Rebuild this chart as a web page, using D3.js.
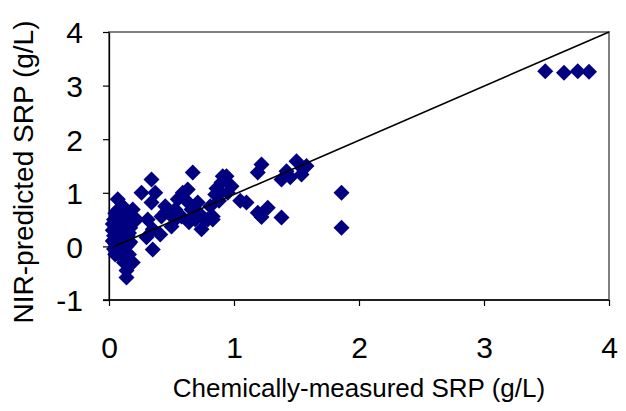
<!DOCTYPE html>
<html>
<head>
<meta charset="utf-8">
<script src="https://cdn.jsdelivr.net/npm/d3@7"></script>
<style>
  body { margin: 0; background: #fff; }
  svg { font-family: "Liberation Sans", Arial, sans-serif; }
</style>
</head>
<body>
<div id="chart"></div>
<script>
// chemically-measured SRP (g/L)
const measured = [
  0.04, 0.05, 0.04, 0.05, 0.04, 0.06, 0.07, 0.06, 0.08, 0.07, 0.05, 0.08, 0.09, 0.10, 0.09, 0.10,
  0.12, 0.11, 0.12, 0.11, 0.13, 0.12, 0.14, 0.14, 0.15, 0.13, 0.15, 0.16, 0.16, 0.14, 0.14, 0.07,
  0.06, 0.10, 0.08, 0.03, 0.03, 0.13, 0.17, 0.11, 0.19, 0.19, 0.35,
  0.03, 0.04, 0.05, 0.06, 0.08, 0.09, 0.11, 0.12, 0.13, 0.15, 0.16, 0.17, 0.10, 0.07,
  0.26, 0.34, 0.37, 0.34, 0.31, 0.35, 0.30, 0.42, 0.45, 0.41, 0.50, 0.46, 0.55, 0.53, 0.59, 0.63,
  0.67, 0.58, 0.66, 0.69, 0.74, 0.77, 0.71, 0.81, 0.85, 0.90, 0.94, 0.89, 0.95, 0.98, 0.79, 0.83,
  0.53, 0.22, 0.91, 1.10, 1.19, 1.27, 0.83, 0.88, 1.05, 1.22,
  0.62, 0.72, 0.86, 0.48, 0.64,
  1.22, 1.19, 1.50, 1.58, 1.54, 1.38, 1.45, 1.42, 1.55, 1.38, 1.86, 1.86,
  3.49, 3.64, 3.75, 3.84
];
// NIR-predicted SRP (g/L)
const predicted = [
  0.50, 0.35, 0.20, 0.05, -0.05, 0.15, 0.30, 0.45, 0.55, 0.00, -0.15, -0.10, 0.10, 0.25, 0.40, 0.60,
  0.50, 0.35, 0.15, -0.05, -0.20, -0.30, 0.00, 0.30, 0.45, 0.65, 0.20, 0.05, -0.15, -0.45, -0.58, 0.88,
  0.65, -0.20, 0.70, 0.30, 0.10, 0.40, 0.35, 0.75, 0.69, -0.30, -0.06,
  0.42, 0.12, 0.62, -0.02, 0.22, 0.48, 0.05, 0.25, -0.10, 0.55, 0.25, 0.08, 0.50, 0.38,
  1.00, 1.25, 1.00, 0.82, 0.50, 0.32, 0.17, 0.56, 0.75, 0.22, 0.37, 0.65, 0.88, 0.69, 1.00, 1.06,
  1.38, 0.56, 0.69, 0.50, 0.32, 0.50, 0.82, 0.75, 0.97, 1.19, 1.31, 1.00, 1.00, 1.12, 0.50, 0.56,
  0.50, 0.50, 1.31, 0.82, 0.63, 0.72, 0.50, 0.85, 0.85, 0.55,
  0.85, 0.62, 1.08, 0.62, 0.45,
  1.53, 1.38, 1.59, 1.50, 1.34, 1.25, 1.29, 1.40, 1.45, 0.54, 1.00, 0.35,
  3.27, 3.24, 3.27, 3.26
];
// 1:1 reference line
const lineX = [0.04, 4];
const lineY = [0.0, 4];
const xTicks = [0, 1, 2, 3, 4];
const yTicks = [-1, 0, 1, 2, 3, 4];

const W = 626, H = 411;
const margin = {top: 32, right: 17, bottom: 111, left: 109};

const svg = d3.select("#chart").append("svg")
  .attr("width", W)
  .attr("height", H);

const x = d3.scaleLinear().domain([0, 4]).range([margin.left, W - margin.right]);
const y = d3.scaleLinear().domain([-1, 4]).range([H - margin.bottom, margin.top]);

// plot area border (grey top/right)
svg.append("rect")
  .attr("x", x(0)).attr("y", y(4))
  .attr("width", x(4) - x(0)).attr("height", y(-1) - y(4))
  .attr("fill", "none")
  .attr("stroke", "#808080")
  .attr("stroke-width", 2);

// axes
const xAxis = svg.append("g")
  .attr("transform", `translate(0,${y(-1)})`)
  .call(d3.axisBottom(x).tickValues(xTicks).tickFormat(d => String(d)).tickSize(6).tickSizeOuter(0));
const yAxis = svg.append("g")
  .attr("transform", `translate(${x(0)},0)`)
  .call(d3.axisLeft(y).tickValues(yTicks).tickFormat(d => String(d)).tickSize(6).tickSizeOuter(0));

[xAxis, yAxis].forEach(g => {
  g.select(".domain").attr("stroke", "#000").attr("stroke-width", 1.3);
  g.selectAll(".tick line").attr("stroke", "#000").attr("stroke-width", 1.2);
  g.selectAll(".tick text")
    .attr("fill", "#000")
    .style("font-size", "30px")
    .style("font-family", "'Liberation Sans', Arial, sans-serif");
});
// extend axis lines to cross each other
xAxis.select(".domain").attr("d", `M${x(0) - 6},0H${x(4)}`);
xAxis.selectAll(".tick text").attr("y", 37).attr("dy", "0.71em");
yAxis.selectAll(".tick text").attr("x", -26).attr("dy", "0.36em");

// diamonds
const diamond = d3.symbol().type(d3.symbolSquare).size(128);
svg.append("g")
  .selectAll("path")
  .data(measured.map((m, i) => [m, predicted[i]]))
  .join("path")
  .attr("d", diamond)
  .attr("transform", d => `translate(${x(d[0])},${y(d[1])}) rotate(45)`)
  .attr("fill", "#000080");

// 1:1 line on top of markers
svg.append("line")
  .attr("x1", x(lineX[0])).attr("y1", y(lineY[0]))
  .attr("x2", x(lineX[1])).attr("y2", y(lineY[1]))
  .attr("stroke", "#000")
  .attr("stroke-width", 1.6);

// axis titles
svg.append("text")
  .attr("x", (x(0) + x(4)) / 2)
  .attr("y", 397)
  .attr("text-anchor", "middle")
  .style("font-size", "26px")
  .text("Chemically-measured SRP (g/L)");

svg.append("text")
  .attr("transform", `translate(33,${(y(-1) + y(4)) / 2 + 6}) rotate(-90)`)
  .attr("text-anchor", "middle")
  .style("font-size", "28px")
  .text("NIR-predicted SRP (g/L)");
</script>
</body>
</html>
